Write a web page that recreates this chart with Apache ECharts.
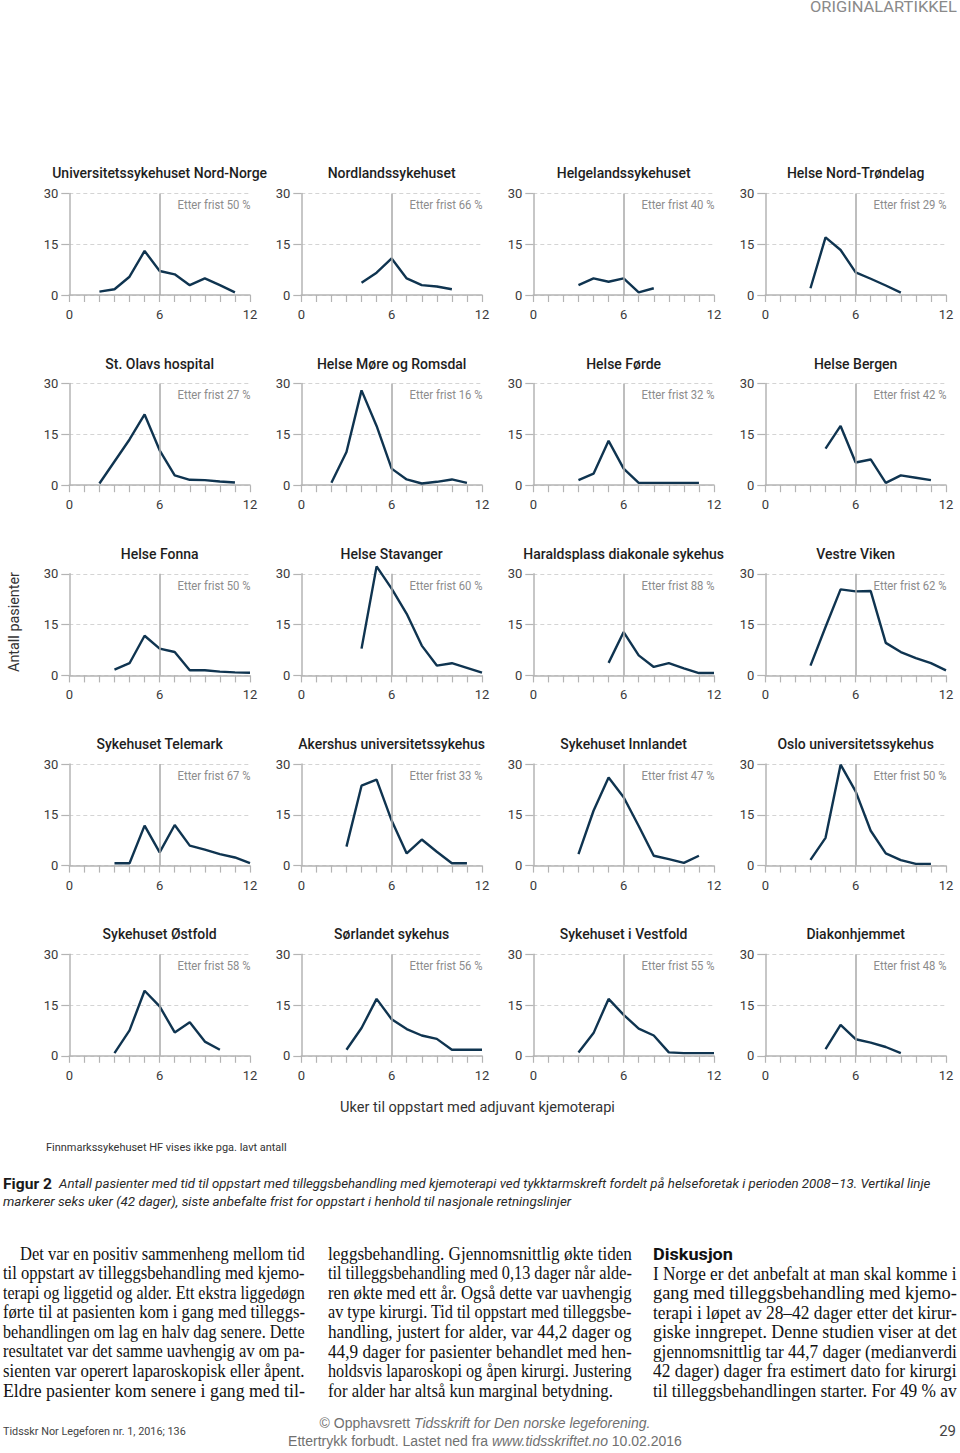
<!DOCTYPE html>
<html><head><meta charset="utf-8">
<script src="https://cdn.jsdelivr.net/npm/echarts@6/dist/echarts.min.js"></script>
<style>html,body{margin:0;padding:0;background:#fff}#c{width:960px;height:1453px}</style>
</head><body><div id="c"></div>
<script>
// ---------- DATA ----------
const weeks = [0,1,2,3,4,5,6,7,8,9,10,11,12];
const xTickLabels = [0, 6, 12];
const yTicks = [0, 15, 30];
const deadlineWeek = 6;
const hospitals = ["Universitetssykehuset Nord-Norge","Nordlandssykehuset","Helgelandssykehuset","Helse Nord-Trøndelag",
  "St. Olavs hospital","Helse Møre og Romsdal","Helse Førde","Helse Bergen",
  "Helse Fonna","Helse Stavanger","Haraldsplass diakonale sykehus","Vestre Viken",
  "Sykehuset Telemark","Akershus universitetssykehus","Sykehuset Innlandet","Oslo universitetssykehus",
  "Sykehuset Østfold","Sørlandet sykehus","Sykehuset i Vestfold","Diakonhjemmet"];
const etterFrist = [50,66,40,29,27,16,32,42,50,60,88,62,67,33,47,50,58,56,55,48];
const n = null;
const unn         = [n,n,1,1.7,5.4,13,7.1,6.1,2.9,4.9,2.9,0.8,n];
const nordland    = [n,n,n,n,3.6,6.6,10.8,4.9,2.9,2.5,1.7,n,n];
const helgeland   = [n,n,n,2.9,4.9,3.9,4.9,0.8,2,n,n,n,n];
const nordTrond   = [n,n,n,2,17,13.3,6.7,4.8,2.8,0.7,n,n,n];
const stOlav      = [n,n,0.5,7,13.5,20.9,10.3,2.9,1.6,1.5,1.1,0.8,n];
const moreRomsdal = [n,n,0.7,9.8,28,17.5,4.9,1.7,0.5,1,1.7,0.7,n];
const forde       = [n,n,n,1.5,3.4,13.1,4.9,0.7,0.7,0.7,0.7,0.7,n];
const bergen      = [n,n,n,n,10.8,17.5,6.7,7.6,0.7,2.9,2.2,1.5,n];
const fonna       = [n,n,n,1.7,3.6,11.7,7.9,6.9,1.5,1.5,1.1,0.9,0.8];
const stavanger   = [n,n,n,n,7.9,32.2,25.6,18.2,8.8,2.9,3.6,2.2,0.8];
const haraldsplass= [n,n,n,n,n,3.7,12.8,5.9,2.5,3.6,2.1,0.7,0.7];
const vestreViken = [n,n,n,2.9,14.3,25.4,24.8,24.9,9.6,6.9,5.1,3.6,1.5];
const telemark    = [n,n,n,0.7,0.7,11.8,3.9,12,5.9,4.7,3.4,2.4,0.7];
const akershus    = [n,n,n,5.6,23.6,25.4,13.3,3.6,7.7,4.1,0.7,0.7,n];
const innlandet   = [n,n,n,3.4,16.2,26,20.2,11.7,2.9,1.9,0.8,2.9,n];
const oslo        = [n,n,n,1.7,8.2,29.8,21.9,10.3,3.6,1.6,0.5,0.5,n];
const ostfold     = [n,n,n,0.8,7.5,19.2,14.6,6.9,9.9,4.2,1.8,n,n];
const sorlandet   = [n,n,n,1.8,8.2,16.8,10.8,7.9,6,5,1.8,1.8,1.8];
const vestfold    = [n,n,n,1,6.7,16.8,12.1,8,6,1,0.8,0.8,0.8];
const diakon      = [n,n,n,n,2,9.1,4.9,3.9,2.6,0.8,n,n,n];
const seriesValues = [unn,nordland,helgeland,nordTrond,stOlav,moreRomsdal,forde,bergen,fonna,stavanger,haraldsplass,vestreViken,telemark,akershus,innlandet,oslo,ostfold,sorlandet,vestfold,diakon];

const yAxisTitle = "Antall pasienter";
const xAxisTitle = "Uker til oppstart med adjuvant kjemoterapi";
const note = "Finnmarkssykehuset HF vises ikke pga. lavt antall";
const captionLabel = "Figur 2";
const captionLine1 = "Antall pasienter med tid til oppstart med tilleggsbehandling med kjemoterapi ved tykktarmskreft fordelt på helseforetak i perioden 2008–13. Vertikal linje";
const captionLine2 = "markerer seks uker (42 dager), siste anbefalte frist for oppstart i henhold til nasjonale retningslinjer";
const col1 = ["Det var en positiv sammenheng mellom tid","til oppstart av tilleggsbehandling med kjemo-","terapi og liggetid og alder. Ett ekstra liggedøgn","førte til at pasienten kom i gang med tilleggs-","behandlingen om lag en halv dag senere. Dette","resultatet var det samme uavhengig av om pa-","sienten var operert laparoskopisk eller åpent.","Eldre pasienter kom senere i gang med til-"];
const col2 = ["leggsbehandling. Gjennomsnittlig økte tiden","til tilleggsbehandling med 0,13 dager når alde-","ren økte med ett år. Også dette var uavhengig","av type kirurgi. Tid til oppstart med tilleggsbe-","handling, justert for alder, var 44,2 dager og","44,9 dager for pasienter behandlet med hen-","holdsvis laparoskopi og åpen kirurgi. Justering","for alder har altså kun marginal betydning."];
const col3Head = "Diskusjon";
const col3 = ["I Norge er det anbefalt at man skal komme i","gang med tilleggsbehandling med kjemo-","terapi i løpet av 28–42 dager etter det kirur-","giske inngrepet. Denne studien viser at det","gjennomsnittlig tar 44,7 dager (medianverdi","42 dager) dager fra estimert dato for kirurgi","til tilleggsbehandlingen starter. For 49 % av"];

// ---------- LAYOUT ----------
const ctx = document.createElement('canvas').getContext('2d');
function tw(text, size, family, weight, style){
  ctx.font = `${style||'normal'} ${weight||'normal'} ${size}px "${family}"`;
  return ctx.measureText(text).width;
}
function txt(text, x, y, o){
  const family = o.family || 'Roboto';
  let sx = o.scale || 1;
  if (o.width) sx = o.width / tw(text, o.size, family, o.weight, o.style);
  return {type:'text', x, y, scaleX:sx, rotation:o.rotation||0, silent:true, z:10,
    style:{text, fontSize:o.size, fontFamily:family, fontWeight:o.weight||'normal', fontStyle:o.style||'normal',
      fill:o.fill||'#222', textAlign:o.align||'left', textVerticalAlign:'middle', align:o.align||'left', verticalAlign:'middle'}};
}

const PW = 180.7, PH = 101.6;
const grid=[], xAxis=[], yAxis=[], series=[], graphic=[];
const axisColor = '#b4b4b4';
const titleScale = 215 / tw(hospitals[0], 14, 'Roboto', 500);
const efScale = 73 / tw('Etter frist 50 %', 12, 'Roboto');

hospitals.forEach((name, i) => {
  const r = Math.floor(i/4), c = i % 4;
  const left = 69.3 + 232*c, top = 193.4 + 190.2*r;
  grid.push({left, top, width:PW, height:PH, containLabel:false});
  xAxis.push({type:'value', gridIndex:i, min:0, max:12, interval:1,
    axisLine:{lineStyle:{color:axisColor, width:1.5}},
    axisTick:{length:7, lineStyle:{color:axisColor, width:1.2}},
    axisLabel:{margin:13, fontSize:13, color:'#3a3a3a', fontFamily:'Roboto',
      formatter: v => xTickLabels.includes(v) ? String(v) : ''},
    splitLine:{show:false}});
  yAxis.push({type:'value', gridIndex:i, min:0, max:30, interval:15,
    axisLine:{show:true, lineStyle:{color:axisColor, width:1.5}},
    axisTick:{show:true, length:8, lineStyle:{color:axisColor, width:1.2}},
    axisLabel:{margin:11, fontSize:13, color:'#3a3a3a', fontFamily:'Roboto',
      formatter: v => yTicks.includes(v) ? String(v) : ''},
    splitLine:{show:true, lineStyle:{type:[4,3], color:'#d4d4d4', width:1}}});
  series.push({type:'line', name, xAxisIndex:i, yAxisIndex:i, clip:false, animation:false,
    symbol:'none', showSymbol:false,
    lineStyle:{color:'#0f3450', width:2.4}, itemStyle:{color:'#0f3450'},
    data: seriesValues[i].map((v,k) => [weeks[k], v]).filter(p => p[1] !== null),
    markLine:{silent:true, animation:false, symbol:['none','none'], label:{show:false},
      lineStyle:{color:'#a9a9a9', type:'solid', width:1.5}, emphasis:{disabled:true},
      data:[{xAxis: deadlineWeek}]}});
  graphic.push(txt(name, left + PW/2, top - 20, {size:14, weight:500, align:'center', scale:titleScale, fill:'#1e1e1e'}));
  graphic.push(txt(`Etter frist ${etterFrist[i]} %`, left + PW + 0.5, top + 11.7, {size:12, align:'right', scale:efScale, fill:'#8c8c8c'}));
});

// page texts
const oa = txt('ORIGINALARTIKKEL', 810, 7, {size:14, width:147, align:'left', fill:'#8a8a8a'});
graphic.push(oa);
graphic.push(txt(yAxisTitle, 14, 622, {size:14, width:100, align:'center', rotation:Math.PI/2, fill:'#333'}));
graphic.push(txt(xAxisTitle, 477.5, 1107, {size:14, width:275, align:'center', fill:'#333'}));
graphic.push(txt(note, 46, 1147, {size:11, width:241, fill:'#333'}));
graphic.push(txt(captionLabel, 3, 1184, {size:14, weight:'bold', width:49, fill:'#1a1a1a'}));
graphic.push(txt(captionLine1, 59, 1184, {size:13, style:'italic', width:873, fill:'#2a2a2a'}));
graphic.push(txt(captionLine2, 3, 1202, {size:13, style:'italic', width:569, fill:'#2a2a2a'}));

const bodyFont = 'Liberation Serif', bodySize = 18, lh = 19.55, y0 = 1254;
col1.forEach((s, k) => {
  const x = k === 0 ? 20 : 3;
  graphic.push(txt(s, x, y0 + lh*k, {size:bodySize, family:bodyFont, width:305 - x, fill:'#111'}));
});
col2.forEach((s, k) => {
  const last = k === col2.length - 1;
  graphic.push(txt(s, 328, y0 + lh*k, {size:bodySize, family:bodyFont, width: last ? 285 : 304, fill:'#111'}));
});
graphic.push(txt(col3Head, 653, y0, {size:17, weight:'bold', width:80, fill:'#111'}));
col3.forEach((s, k) => {
  graphic.push(txt(s, 653, y0 + lh*(k+1), {size:bodySize, family:bodyFont, width:304, fill:'#111'}));
});

// footer
graphic.push(txt('Tidsskr Nor Legeforen nr. 1, 2016; 136', 3, 1431, {size:11, width:183, fill:'#444'}));
graphic.push(txt('29', 956, 1431, {size:15, align:'right', fill:'#444'}));
function mixedLine(parts, cx, y){
  const fam = 'Liberation Sans', size = 14;
  const widths = parts.map(p => tw(p[0], size, fam, 'normal', p[1] ? 'italic' : 'normal'));
  let x = cx - widths.reduce((a,b)=>a+b,0)/2;
  parts.forEach((p, k) => {
    graphic.push(txt(p[0], x, y, {size, family:fam, style:p[1]?'italic':'normal', fill:'#707070'}));
    x += widths[k];
  });
}
mixedLine([['© Opphavsrett ', false], ['Tidsskrift for Den norske legeforening.', true]], 485, 1423);
mixedLine([['Ettertrykk forbudt. Lastet ned fra ', false], ['www.tidsskriftet.no', true], [' 10.02.2016', false]], 485, 1441);

const chart = echarts.init(document.getElementById('c'), null, {renderer:'svg'});
chart.setOption({backgroundColor:'#fff', animation:false, grid, xAxis, yAxis, series, graphic});
</script></body></html>
